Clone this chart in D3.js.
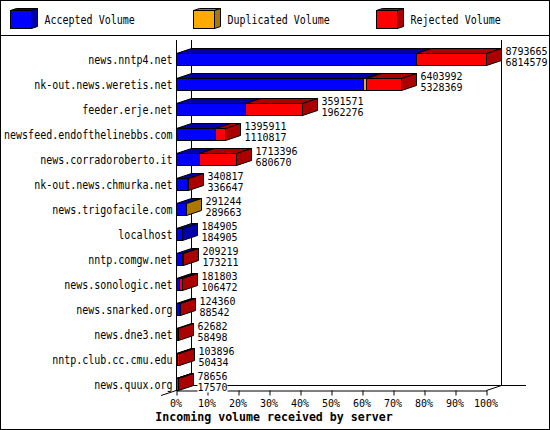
<!DOCTYPE html>
<meta charset="utf-8">
<script src="https://cdn.jsdelivr.net/npm/d3@7"></script>
<style>
  body { margin: 0; background: #fff; }
  text { font-family: "DejaVu Sans Mono", monospace; font-size: 10px; fill: #000; }
  .title { font-weight: bold; font-size: 11.6px; }
  svg { display: block; }
</style>
<div id="chart"></div>
<script>
// values
var hosts = ["news.nntp4.net", "nk-out.news.weretis.net", "feeder.erje.net",
  "newsfeed.endofthelinebbs.com", "news.corradoroberto.it", "nk-out.news.chmurka.net",
  "news.trigofacile.com", "localhost", "nntp.comgw.net", "news.sonologic.net",
  "news.snarked.org", "news.dne3.net", "nntp.club.cc.cmu.edu", "news.quux.org"];
var totalVolume = [8793665, 6403992, 3591571, 1395911, 1713396, 340817, 291244,
  184905, 209219, 181803, 124360, 62682, 103896, 78656];
var acceptedVolume = [6814579, 5328369, 1962276, 1110817, 680670, 336647, 289663,
  184905, 173211, 106472, 88542, 58498, 50434, 17570];
var duplicatedVolume = [0, 85000, 0, 0, 0, 0, 1581, 0, 0, 0, 0, 0, 0, 0];
var rejectedVolume = [1979086, 990623, 1629295, 285094, 1032726, 4170, 0,
  0, 36008, 75331, 35818, 4184, 53462, 61086];
var tickLabels = ["0%", "10%", "20%", "30%", "40%", "50%", "60%", "70%", "80%", "90%", "100%"];
var tickValues = [0, 10, 20, 30, 40, 50, 60, 70, 80, 90, 100];
var legendNames = ["Accepted Volume", "Duplicated Volume", "Rejected Volume"];

var keys = ["accepted", "duplicated", "rejected"];
var frontColor = {accepted: "#0000ff", duplicated: "#ffaa00", rejected: "#ff0000"};
var darkColor = {accepted: "#0000aa", duplicated: "#aa7700", rejected: "#aa0000"};

var width = 550, height = 430;
var depthX = 15, depthY = 5;
var axisY = 390.5;

var svg = d3.select("#chart").append("svg")
  .attr("width", width)
  .attr("height", height);

var rows = hosts.map(function(h, i) {
  return {host: h, total: totalVolume[i], acceptedLabel: acceptedVolume[i],
    accepted: acceptedVolume[i], duplicated: duplicatedVolume[i], rejected: rejectedVolume[i]};
});

// the axis is percent of the biggest server
var maxVolume = d3.max(totalVolume);
var x = d3.scaleLinear().domain([0, 100]).range([176.5, 486.5]);
// bars land on whole pixels, always rounded down
var xBar = d3.scaleLinear().domain([0, maxVolume]).range([176, 486]);
var xVol = function(v) { return Math.floor(xBar(v)) + 0.5; };
var y = d3.scaleBand().domain(hosts).range([47, 397]).paddingInner(0.52).paddingOuter(0.26);

// the original font is narrow and tall, so stretch the text upwards
function tallText(g, tx, ty, str, anchor, stretch) {
  return g.append("text")
    .attr("transform", "translate(" + tx + "," + ty + ") scale(1," + (stretch || 1.17) + ")")
    .attr("text-anchor", anchor || "start")
    .text(str);
}

// outer border and legend rule
var crisp = svg.append("g").attr("shape-rendering", "crispEdges");
crisp.append("rect").attr("x", 0.5).attr("y", 0.5).attr("width", width - 1).attr("height", height - 1)
  .attr("fill", "#fff").attr("stroke", "#000");
crisp.append("line").attr("x1", 0).attr("x2", width).attr("y1", 35.5).attr("y2", 35.5).attr("stroke", "#000");

// 3d faces
function topFace(g, x0, x1, y0, dx, dy, key) {
  g.append("path")
    .attr("d", "M" + x0 + "," + y0 + "L" + (x0 + dx) + "," + (y0 - dy) + "L" + (x1 + dx) + "," + (y0 - dy) + "L" + x1 + "," + y0 + "Z")
    .attr("fill", darkColor[key]).attr("stroke", "#000");
}
function sideFace(g, x1, y0, y1, dx, dy, key) {
  g.append("path")
    .attr("d", "M" + x1 + "," + y0 + "L" + (x1 + dx) + "," + (y0 - dy) + "L" + (x1 + dx) + "," + (y1 - dy) + "L" + x1 + "," + y1 + "Z")
    .attr("fill", darkColor[key]).attr("stroke", "#000");
}

var legendX = [10.5, 193.5, 376.5];
var legend = svg.append("g").attr("class", "legend");
keys.forEach(function(k, i) {
  var lx = legendX[i];
  topFace(legend, lx, lx + 21, 10.5, 6, 2, k);
  sideFace(legend, lx + 21, 10.5, 28.5, 6, 2, k);
  legend.append("rect").attr("x", lx).attr("y", 10.5).attr("width", 21).attr("height", 18)
    .attr("fill", frontColor[k]).attr("stroke", "#000");
  tallText(legend, lx + 34, 24, legendNames[i]);
});

// back wall and floor
var walls = svg.append("g").attr("stroke", "#000").attr("fill", "none");
walls.append("line").attr("x1", 191.5).attr("x2", 191.5).attr("y1", 40).attr("y2", 385.5);
walls.append("line").attr("x1", 501.5).attr("x2", 501.5).attr("y1", 40).attr("y2", 385.5);
walls.append("line").attr("x1", 191.5).attr("x2", 526).attr("y1", 385.5).attr("y2", 385.5);
walls.append("line").attr("x1", 161).attr("x2", 191.5).attr("y1", 395.5).attr("y2", 385.5);
walls.append("line").attr("x1", 486.5).attr("x2", 501.5).attr("y1", 390.5).attr("y2", 385.5);
walls.append("line").attr("x1", 176.5).attr("x2", 176.5).attr("y1", 40).attr("y2", axisY);

// x axis
var xAxis = svg.append("g")
  .attr("transform", "translate(0," + axisY + ")")
  .call(d3.axisBottom(x).tickValues(tickValues).tickSize(5).tickSizeOuter(0)
    .tickFormat(function(d, i) { return tickLabels[i]; }));
xAxis.selectAll("text").attr("y", 9).attr("dx", -1)
  .style("font-family", '"DejaVu Sans Mono", monospace').style("font-size", "10px");
xAxis.selectAll(".domain, line").attr("stroke", "#000");

svg.append("text").attr("class", "title")
  .attr("x", 274).attr("y", 421).attr("text-anchor", "middle")
  .text("Incoming volume received by server");

// host names
var hostLabels = svg.append("g");
rows.forEach(function(d) {
  tallText(hostLabels, 172.5, y(d.host) + 10, d.host, "end");
});

// bars, stacked
var series = d3.stack().keys(keys)(rows);
var bars = svg.append("g").selectAll("g")
  .data(rows)
  .enter().append("g");

bars.each(function(d, i) {
  var g = d3.select(this);
  var top = y(d.host), bottom = top + y.bandwidth();
  var last = keys[0];
  series.forEach(function(s) {
    var seg = s[i];
    if (seg[1] - seg[0] <= 0) return;
    last = s.key;
    var x0 = xVol(seg[0]), x1 = xVol(seg[1]);
    topFace(g, x0, x1, top, depthX, depthY, s.key);
    g.append("rect")
      .attr("x", x0).attr("y", top)
      .attr("width", x1 - x0).attr("height", bottom - top)
      .attr("fill", frontColor[s.key]).attr("stroke", "#000");
  });
  sideFace(g, xVol(d.total), top, bottom, depthX, depthY, last);

  // numbers have a white box behind them, only slightly stretched so the two lines stay apart
  var lx = xVol(d.total) + depthX + 4;
  [[d.total, top + 1], [d.acceptedLabel, top + 12]].forEach(function(t) {
    var str = String(t[0]);
    g.append("rect").attr("x", lx).attr("y", t[1] - 9).attr("width", str.length * 6).attr("height", 11).attr("fill", "#fff");
    tallText(g, lx, t[1], str, "start", 1.04);
  });
});
</script>
